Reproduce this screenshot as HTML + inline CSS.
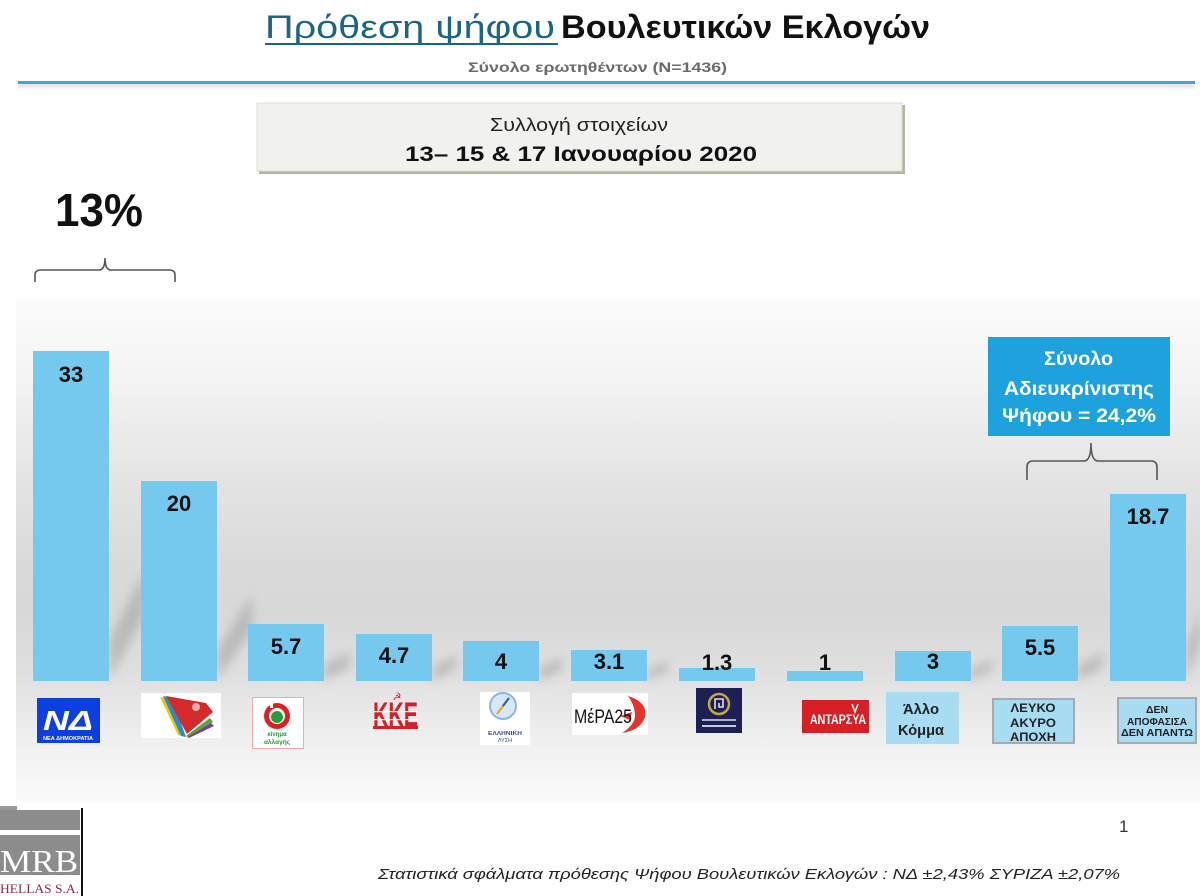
<!DOCTYPE html>
<html>
<head>
<meta charset="utf-8">
<style>
html,body{margin:0;padding:0;background:#ffffff;}
svg{display:block;}
text{font-family:"Liberation Sans","DejaVu Sans",sans-serif;}
</style>
</head>
<body>
<svg width="1200" height="896" viewBox="0 0 1200 896" xmlns="http://www.w3.org/2000/svg">
<defs>
<linearGradient id="panel" x1="0" y1="297" x2="0" y2="803" gradientUnits="userSpaceOnUse">
<stop offset="0" stop-color="#fcfcfc"/>
<stop offset="0.17" stop-color="#f3f3f3"/>
<stop offset="0.36" stop-color="#e4e4e4"/>
<stop offset="0.52" stop-color="#dadada"/>
<stop offset="0.62" stop-color="#d8d8d8"/>
<stop offset="0.74" stop-color="#dfdfdf"/>
<stop offset="0.88" stop-color="#f0f0f0"/>
<stop offset="1" stop-color="#fbfbfb"/>
</linearGradient>
<filter id="blur" x="-50%" y="-50%" width="200%" height="200%"><feGaussianBlur stdDeviation="5"/></filter>
<filter id="blur2" x="-20%" y="-50%" width="140%" height="300%"><feGaussianBlur stdDeviation="1.5"/></filter>
</defs>

<!-- Header -->
<text x="265" y="38" font-size="32" fill="#1d6585" textLength="290" lengthAdjust="spacingAndGlyphs">Πρόθεση ψήφου</text>
<rect x="265" y="43" width="293" height="2" fill="#1d6585"/>
<text x="561" y="38" font-size="32" font-weight="bold" fill="#111" textLength="369" lengthAdjust="spacingAndGlyphs">Βουλευτικών Εκλογών</text>
<text x="468" y="72" font-size="14" font-weight="bold" fill="#6a6a6a" textLength="259" lengthAdjust="spacingAndGlyphs">Σύνολο ερωτηθέντων (N=1436)</text>

<rect x="18" y="84" width="1177" height="3" fill="#d8d8d8" filter="url(#blur2)"/>
<rect x="18" y="81" width="1177" height="3" fill="#41a6d6"/>

<!-- Date box -->
<rect x="259" y="105" width="646" height="69" fill="#b5b59a"/>
<rect x="257" y="103" width="645" height="68" fill="#f1f1ef" stroke="#dcdcd6" stroke-width="1"/>
<text x="490" y="131" font-size="18" fill="#222" textLength="178" lengthAdjust="spacingAndGlyphs">Συλλογή στοιχείων</text>
<text x="405" y="161" font-size="21" font-weight="bold" fill="#111" textLength="352" lengthAdjust="spacingAndGlyphs">13– 15 &amp; 17 Ιανουαρίου 2020</text>

<!-- 13% and bracket -->
<text x="55" y="226" font-size="46" font-weight="bold" fill="#111" textLength="88" lengthAdjust="spacingAndGlyphs">13%</text>
<path d="M35,282 L35,275 Q35,270 41,270 L99,270 Q105,270 105,258 Q105,270 111,270 L169,270 Q175,270 175,275 L175,282" fill="none" stroke="#555" stroke-width="1.6"/>

<!-- Panel -->
<rect x="16" y="297" width="1184" height="506" fill="url(#panel)"/>

<!-- Shadows -->
<g fill="#8a8a8a" opacity="0.4" filter="url(#blur)">
<polygon points="109,681 145,615 145,570 109,640"/>
<polygon points="217,681 252,630 252,595 217,650"/>
<polygon points="324,681 350,667 350,652 324,664"/>
<polygon points="432,681 456,669 456,655 432,667"/>
<polygon points="539,681 562,670 562,657 539,668"/>
<polygon points="647,681 668,671 668,660 647,670"/>
<polygon points="970,681 992,671 992,659 970,669"/>
<polygon points="1078,681 1103,667 1103,652 1078,666"/>
<polygon points="1186,681 1200,645 1200,610 1186,646"/>
</g>

<!-- Bars -->
<g fill="#76c9ee">
<rect x="33" y="351" width="76" height="330"/>
<rect x="141" y="481" width="76" height="200"/>
<rect x="248" y="624" width="76" height="57"/>
<rect x="356" y="634" width="76" height="47"/>
<rect x="463" y="641" width="76" height="40"/>
<rect x="571" y="650" width="76" height="31"/>
<rect x="679" y="668" width="76" height="13"/>
<rect x="787" y="671" width="76" height="10"/>
<rect x="895" y="651" width="76" height="30"/>
<rect x="1002" y="626" width="76" height="55"/>
<rect x="1110" y="494" width="76" height="187"/>
</g>

<!-- Value labels -->
<g font-size="22" font-weight="bold" fill="#111" text-anchor="middle">
<text x="71" y="382">33</text>
<text x="179" y="511">20</text>
<text x="286" y="654">5.7</text>
<text x="394" y="663">4.7</text>
<text x="501" y="669">4</text>
<text x="609" y="669">3.1</text>
<text x="717" y="670">1.3</text>
<text x="825" y="670">1</text>
<text x="933" y="669">3</text>
<text x="1040" y="655">5.5</text>
<text x="1148" y="524">18.7</text>
</g>

<!-- Undecided box and bracket -->
<rect x="988" y="337" width="182" height="99" fill="#1ea2de"/>
<g font-size="19" font-weight="bold" fill="#ffffff">
<text x="1044" y="365" textLength="69" lengthAdjust="spacingAndGlyphs">Σύνολο</text>
<text x="1004" y="395" textLength="150" lengthAdjust="spacingAndGlyphs">Αδιευκρίνιστης</text>
<text x="1002" y="422" textLength="154" lengthAdjust="spacingAndGlyphs">Ψήφου = 24,2%</text>
</g>
<path d="M1027,480 L1027,467 Q1027,461 1033,461 L1084,461 Q1091,461 1091,443 Q1091,461 1098,461 L1151,461 Q1157,461 1157,467 L1157,480" fill="none" stroke="#555" stroke-width="1.6"/>

<!-- Logos -->
<!-- ND -->
<rect x="37" y="698" width="63" height="45" fill="#0d3fe0"/>
<text x="68" y="730" font-size="28" font-weight="bold" font-style="italic" fill="#ffffff" text-anchor="middle" textLength="50" lengthAdjust="spacingAndGlyphs">ΝΔ</text>
<text x="68" y="740" font-size="5" font-weight="bold" fill="#ffffff" text-anchor="middle" textLength="50" lengthAdjust="spacingAndGlyphs">ΝΕΑ ΔΗΜΟΚΡΑΤΙΑ</text>

<!-- SYRIZA -->
<rect x="141" y="693" width="80" height="45" fill="#ffffff"/>
<polygon points="160,697 170,699 185,737 178,735" fill="#f6c400"/>
<polygon points="163,696 172,698 186,737 181,736" fill="#1f8fd0"/>
<polygon points="187,737 210,722 214,726 189,738" fill="#7a3b9a"/>
<polygon points="186,736 210,718 213,722 188,737" fill="#5aa33a"/>
<polygon points="166,696 206,703 213,712 187,734" fill="#d42a2a"/>
<circle cx="196" cy="707" r="4" fill="#e8e8e8" opacity="0.7"/>

<!-- KINAL -->
<rect x="252.5" y="697.5" width="51" height="51" fill="#ffffff" stroke="#f2a9a9" stroke-width="1"/>
<circle cx="277" cy="716" r="13" fill="#e02020"/>
<circle cx="277" cy="716" r="8" fill="#ffffff"/>
<circle cx="277" cy="717" r="6" fill="#2a9a3a"/>
<rect x="270" y="702" width="3" height="6" fill="#ffffff"/>
<text x="277" y="736" font-size="6" font-weight="bold" fill="#2a9a3a" text-anchor="middle">κίνημα</text>
<text x="277" y="744" font-size="6.5" font-weight="bold" fill="#2a9a3a" text-anchor="middle">αλλαγής</text>

<!-- KKE -->
<text x="373" y="726" font-size="34" font-weight="bold" fill="#d42027" textLength="45" lengthAdjust="spacingAndGlyphs">ΚΚΕ</text>
<rect x="373" y="726" width="45" height="3" fill="#d42027"/>
<rect x="373" y="711" width="45" height="1.2" fill="#ffffff"/>
<rect x="373" y="719" width="45" height="1.2" fill="#ffffff"/>
<text x="397" y="700" font-size="10" font-weight="bold" fill="#d42027" text-anchor="middle">☭</text>

<!-- Elliniki Lysi -->
<rect x="480" y="692" width="50" height="53" fill="#ffffff"/>
<circle cx="503" cy="706" r="13" fill="#d6e7f7" stroke="#8db5de" stroke-width="2"/>
<line x1="497" y1="714" x2="509" y2="698" stroke="#f0a020" stroke-width="2"/>
<line x1="503" y1="706" x2="509" y2="698" stroke="#2a5aa8" stroke-width="2"/>
<text x="505" y="735" font-size="5.5" font-weight="bold" fill="#3a4a8a" text-anchor="middle" textLength="34" lengthAdjust="spacingAndGlyphs">ΕΛΛΗΝΙΚΗ</text>
<text x="505" y="742" font-size="5.5" fill="#3a4a8a" text-anchor="middle">ΛΥΣΗ</text>

<!-- MeRA25 -->
<rect x="572" y="693" width="76" height="42" fill="#ffffff"/>
<path d="M628,696 Q648,702 645,717 Q641,730 622,733 Q636,724 635,714 Q634,704 628,696 Z" fill="#e8332a"/>
<path d="M620,716 L632,712 L630,720 Z" fill="#e8332a"/>
<text x="574" y="723" font-size="19" fill="#111" textLength="58" lengthAdjust="spacingAndGlyphs">ΜέΡΑ25</text>

<!-- Golden Dawn -->
<rect x="696" y="688" width="46" height="45" fill="#1b2157"/>
<circle cx="719" cy="704" r="10" fill="none" stroke="#c9a63d" stroke-width="2.5"/>
<path d="M715,709 L715,699 L723,699 L723,707 L719,707 L719,703" fill="none" stroke="#e0e0e0" stroke-width="1.6"/>
<rect x="702" y="719" width="34" height="2" fill="#aab0c8"/>
<rect x="702" y="725" width="34" height="2" fill="#c8ccdc"/>

<!-- ANTARSYA -->
<rect x="802" y="700" width="67" height="33" fill="#d91f26"/>
<text x="810" y="724" font-size="14" font-weight="bold" fill="#ffffff" textLength="56" lengthAdjust="spacingAndGlyphs">ΑΝΤΑΡΣΥΑ</text>
<path d="M852,704 L855,712 L858,704" fill="none" stroke="#ffffff" stroke-width="1.5"/>

<!-- Άλλο Κόμμα -->
<rect x="886" y="692" width="73" height="52" fill="#a8dcf3"/>
<text x="921" y="714" font-size="15" font-weight="bold" fill="#222" text-anchor="middle" textLength="36" lengthAdjust="spacingAndGlyphs">Άλλο</text>
<text x="921" y="735" font-size="15" font-weight="bold" fill="#222" text-anchor="middle" textLength="46" lengthAdjust="spacingAndGlyphs">Κόμμα</text>

<!-- ΛΕΥΚΟ -->
<rect x="993" y="699" width="81" height="44" fill="#a8dcf3" stroke="#a4aab2" stroke-width="2"/>
<g font-size="12" font-weight="bold" fill="#222" text-anchor="middle">
<text x="1033" y="712" textLength="45" lengthAdjust="spacingAndGlyphs">ΛΕΥΚΟ</text>
<text x="1033" y="727" textLength="46" lengthAdjust="spacingAndGlyphs">ΑΚΥΡΟ</text>
<text x="1033" y="741" textLength="46" lengthAdjust="spacingAndGlyphs">ΑΠΟΧΗ</text>
</g>

<!-- ΔΕΝ ΑΠΟΦΑΣΙΣΑ -->
<rect x="1118" y="698" width="78" height="45" fill="#a8dcf3" stroke="#a4aab2" stroke-width="2"/>
<g font-size="10" font-weight="bold" fill="#222" text-anchor="middle">
<text x="1157" y="713" textLength="22" lengthAdjust="spacingAndGlyphs">ΔΕΝ</text>
<text x="1157" y="725" textLength="60" lengthAdjust="spacingAndGlyphs">ΑΠΟΦΑΣΙΣΑ</text>
<text x="1157" y="736" textLength="72" lengthAdjust="spacingAndGlyphs">ΔΕΝ ΑΠΑΝΤΩ</text>
</g>

<!-- Footer MRB logo -->
<rect x="0" y="806" width="17" height="5" fill="#9a9a9a"/>
<rect x="0" y="810" width="80" height="20" fill="#8c8c8c"/>
<rect x="0" y="835" width="80" height="40" fill="#8c8c8c"/>
<text x="0" y="872" font-size="32" fill="#ffffff" textLength="78" lengthAdjust="spacingAndGlyphs" style="font-family:'Liberation Serif',serif">MRB</text>
<text x="0" y="893" font-size="13" fill="#8b2b3c" textLength="79" lengthAdjust="spacingAndGlyphs" style="font-family:'Liberation Serif',serif">HELLAS S.A.</text>
<rect x="81" y="808" width="2" height="88" fill="#111"/>

<text x="1119" y="832" font-size="17" fill="#333">1</text>

<text x="378" y="879" font-size="15" font-style="italic" fill="#222" textLength="742" lengthAdjust="spacingAndGlyphs">Στατιστικά σφάλματα πρόθεσης Ψήφου Βουλευτικών Εκλογών : ΝΔ ±2,43% ΣΥΡΙΖΑ ±2,07%</text>
</svg>
</body>
</html>
